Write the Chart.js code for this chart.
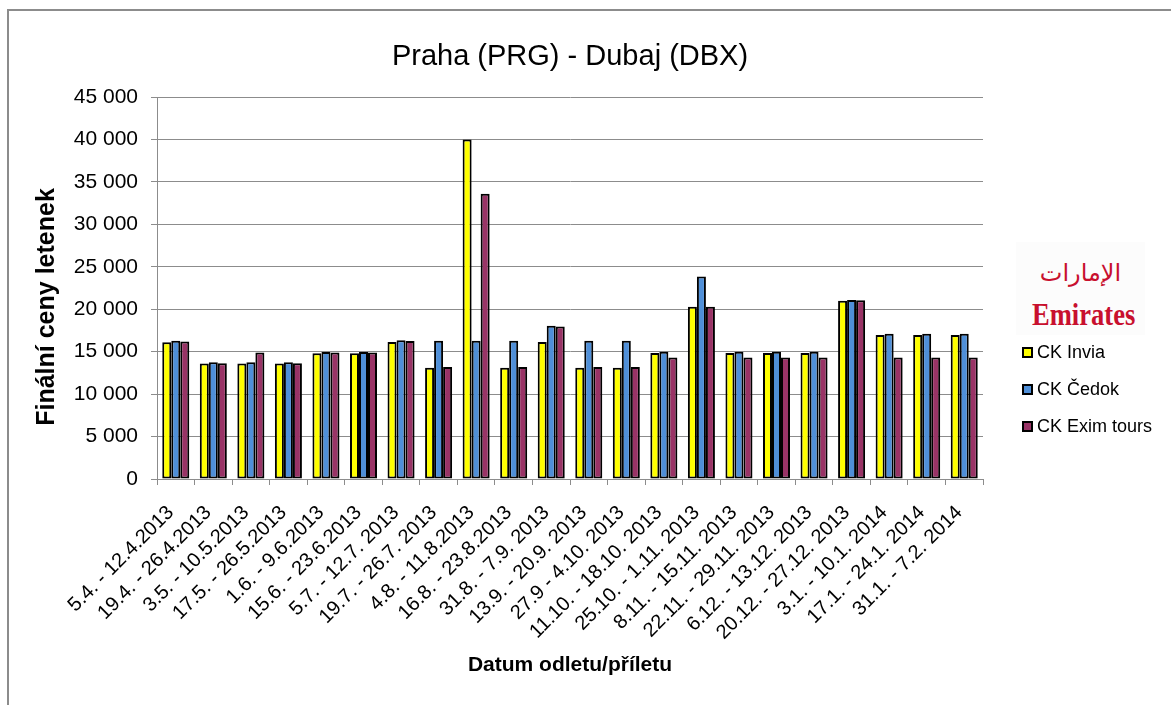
<!DOCTYPE html>
<html>
<head>
<meta charset="utf-8">
<script src="https://cdn.jsdelivr.net/npm/chart.js@4.4.1/dist/chart.umd.min.js"></script>
<style>
  html, body { margin:0; padding:0; background:#fff; }
  #wrap { position:relative; width:1171px; height:705px; overflow:hidden; font-family:"Liberation Sans", Arial, sans-serif; }
  #frame { position:absolute; left:7px; top:9px; width:1200px; height:800px; border-top:2px solid #8c8c8c; border-left:2px solid #8c8c8c; }
  #logo { position:absolute; left:1016px; top:242px; width:129px; height:93px; background:#fcfcfc; }
  #legend { position:absolute; left:1022px; top:334px; }
  .item { display:flex; align-items:center; height:37px; font-size:18px; color:#000; }
  .box { width:7px; height:7px; border:2px solid #000; margin-right:4px; }
</style>
</head>
<body>
<div id="wrap">
  <div id="frame"></div>
  <canvas id="c" width="1171" height="705"></canvas>
  <div id="logo">
    <div style="position:absolute;left:0;width:129px;top:8px;text-align:center;color:#c8102e;font-family:'DejaVu Sans';font-size:24px;line-height:46px">الإمارات</div>
    <div style="position:absolute;left:16px;top:56px;color:#c8102e;font-family:'Liberation Serif';font-weight:bold;font-size:32px;transform:scaleX(0.83);transform-origin:left top;line-height:32px">Emirates</div>
  </div>
  <div id="legend"></div>
</div>
<script>
const categories = [
  '5.4. - 12.4.2013', '19.4. - 26.4.2013', '3.5. - 10.5.2013', '17.5. - 26.5.2013',
  '1.6. - 9.6.2013', '15.6. - 23.6.2013', '5.7. - 12.7. 2013', '19.7. - 26.7. 2013',
  '4.8. - 11.8.2013', '16.8. - 23.8.2013', '31.8. - 7.9. 2013', '13.9. - 20.9. 2013',
  '27.9 - 4.10. 2013', '11.10. - 18.10. 2013', '25.10. - 1.11. 2013', '8.11. - 15.11. 2013',
  '22.11. - 29.11. 2013', '6.12. - 13.12. 2013', '20.12. - 27.12. 2013', '3.1. - 10.1. 2014',
  '17.1. - 24.1. 2014', '31.1. - 7.2. 2014'
];
const invia = [16100, 13600, 13600, 13600, 14800, 14800, 16150, 13100, 40000, 13100, 16150,
               13100, 13100, 14850, 20300, 14850, 14850, 14850, 21000, 16950, 16950, 16950];
const cedok = [16300, 13750, 13750, 13750, 14950, 14950, 16350, 16300, 16300, 16300, 18050,
               16300, 16300, 15000, 23850, 15000, 15000, 15000, 21100, 17100, 17100, 17100];
const exim  = [16200, 13650, 14900, 13650, 14900, 14900, 16250, 13200, 33600, 13200, 17950,
               13200, 13200, 14300, 20300, 14300, 14300, 14300, 21050, 14300, 14300, 14300];
const seriesNames = ['CK Invia', 'CK Čedok', 'CK Exim tours'];
const yTicks = [0, 5000, 10000, 15000, 20000, 25000, 30000, 35000, 40000, 45000];
const chartTitle = 'Praha (PRG) - Dubaj (DBX)';
const yTitle = 'Finální ceny letenek';

const FONT = '"Liberation Sans", Arial, sans-serif';
const GRID = '#8c8c8c';
Chart.defaults.font.family = FONT;
Chart.defaults.color = '#000';

const fmt = v => String(v).replace(/\B(?=(\d{3})+(?!\d))/g, ' ');

const mk = (label, data, color) => ({
  label, data,
  backgroundColor: color,
  borderColor: '#000',
  borderWidth: 2,
  borderSkipped: false,
  barPercentage: 1.0,
  categoryPercentage: 0.72
});

// chart title centred over the plot area and the y title set a bit low, as in the original
const titles = {
  id: 'titles',
  afterDraw(c) {
    const { ctx, chartArea } = c;
    ctx.save();
    ctx.fillStyle = '#000';
    ctx.textAlign = 'center';
    ctx.textBaseline = 'middle';
    ctx.font = '29px ' + FONT;
    ctx.fillText(chartTitle, (chartArea.left + chartArea.right) / 2, 57);
    ctx.translate(47, 307);
    ctx.rotate(-Math.PI / 2);
    ctx.font = 'bold 25px ' + FONT;
    ctx.fillText(yTitle, 0, 0);
    ctx.restore();
  }
};

const chart = new Chart(document.getElementById('c'), {
  type: 'bar',
  data: {
    labels: categories,
    datasets: [
      mk(seriesNames[0], invia, '#ffff00'),
      mk(seriesNames[1], cedok, '#4f8fd8'),
      mk(seriesNames[2], exim, '#993366')
    ]
  },
  plugins: [titles],
  options: {
    responsive: false,
    animation: false,
    layout: { padding: { left: 8, right: 188, top: 97, bottom: 20 } },
    plugins: {
      legend: { display: false },
      tooltip: { enabled: false },
      title: { display: false }
    },
    scales: {
      x: {
        grid: { display: true, drawOnChartArea: false, drawTicks: true, tickLength: 6, color: GRID, lineWidth: 1 },
        border: { color: GRID, width: 1 },
        ticks: { font: { size: 20 }, maxRotation: 45, minRotation: 45, autoSkip: false, padding: 16, labelOffset: -5 },
        title: { display: true, text: 'Datum odletu/příletu', font: { size: 21, weight: 'bold' }, padding: { top: 0, bottom: 7.4 } },
        afterFit(s) { s.height = 206; }
      },
      y: {
        min: 0, max: 45000,
        afterBuildTicks(s) { s.ticks = yTicks.map(v => ({ value: v })); },
        grid: { color: GRID, lineWidth: 1, tickLength: 6 },
        border: { color: GRID, width: 1 },
        ticks: { font: { size: 21 }, padding: 13, callback: v => fmt(v) },
        afterFit(s) { s.width = 149; }
      }
    }
  }
});

// legend from datasets
const lg = document.getElementById('legend');
chart.data.datasets.forEach(ds => {
  const it = document.createElement('div');
  it.className = 'item';
  it.innerHTML = `<span class="box" style="background:${ds.backgroundColor}"></span><span>${ds.label}</span>`;
  lg.appendChild(it);
});
</script>
</body>
</html>
